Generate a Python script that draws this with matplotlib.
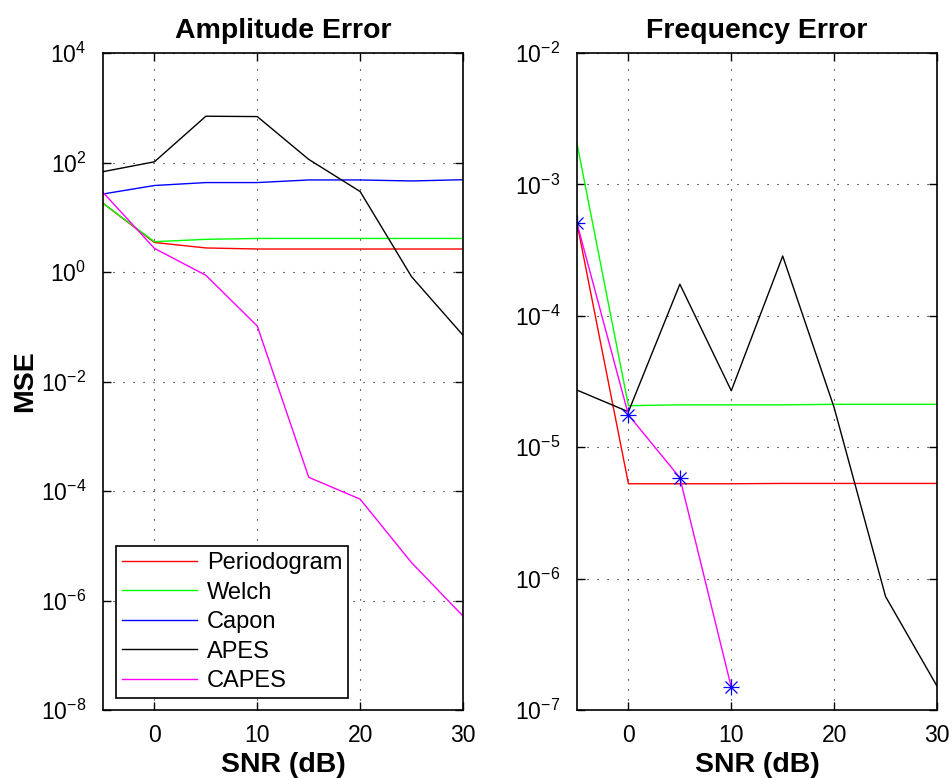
import numpy as np
import matplotlib
matplotlib.use("Agg")
import matplotlib.pyplot as plt
from matplotlib.ticker import NullLocator

plt.rcParams['font.family'] = ['Liberation Sans', 'DejaVu Sans']
plt.rcParams['mathtext.fontset'] = 'custom'
plt.rcParams['mathtext.rm'] = 'Liberation Sans'
plt.rcParams['mathtext.it'] = 'Liberation Sans:italic'
plt.rcParams['mathtext.bf'] = 'Liberation Sans:bold'

snr = [-5, 0, 5, 10, 15, 20, 25, 30]
labels = ["Periodogram", "Welch", "Capon", "APES", "CAPES"]
colors = ["#ff0000", "#00ff00", "#0000ff", "#000000", "#ff00ff"]

# Amplitude error
amp_periodogram = [18, 3.46, 2.75, 2.63, 2.63, 2.63, 2.63, 2.63]
amp_welch = [18, 3.58, 3.95, 4.1, 4.1, 4.1, 4.1, 4.1]
amp_capon = [26.6, 38, 43, 43, 48, 48, 46, 48.5]
amp_apes = [68, 103, 700, 690, 114, 29.5, 0.82, 0.07]
amp_capes = [28.5, 2.7, 0.87, 0.103, 1.78e-4, 7.1e-5, 4.9e-6, 5.2e-7]

# Frequency error
freq_periodogram = [5.06e-4, 5.27e-6, 5.27e-6, 5.27e-6, 5.3e-6, 5.3e-6, 5.3e-6, 5.3e-6]
freq_welch = [2.05e-3, 2.07e-5, 2.1e-5, 2.1e-5, 2.1e-5, 2.12e-5, 2.12e-5, 2.12e-5]
freq_apes = [2.72e-5, 1.86e-5, 1.74e-4, 2.69e-5, 2.85e-4, 2.0e-5, 7.3e-7, 1.52e-7]
freq_capes_snr = [-5, 0, 5, 10]
freq_capes = [5.06e-4, 1.76e-5, 5.86e-6, 1.49e-7]

fig = plt.figure(figsize=(9.53, 7.78), dpi=100)
W, H = 953, 778
ax1 = fig.add_axes([103 / W, 1 - 710 / H, 360 / W, 657 / H])
ax2 = fig.add_axes([577 / W, 1 - 710 / H, 360 / W, 657 / H])

lw = 1.0
amp_series = [amp_periodogram, amp_welch, amp_capon, amp_apes, amp_capes]
for ys, c, lab in zip(amp_series, colors, labels):
    ax1.plot(snr, ys, color=c, lw=lw, label=lab)

ax2.plot(snr, freq_periodogram, color=colors[0], lw=lw)
ax2.plot(snr, freq_welch, color=colors[1], lw=lw)
ax2.plot(snr, freq_apes, color=colors[3], lw=lw)
ax2.plot(freq_capes_snr, freq_capes, color=colors[4], lw=lw)
ax2.plot(freq_capes_snr, freq_capes, linestyle='none', marker='+', color='#0000ff',
         markersize=12, markeredgewidth=0.9)
ax2.plot(freq_capes_snr, freq_capes, linestyle='none', marker='x', color='#0000ff',
         markersize=8.5, markeredgewidth=0.9)

for ax, ylim, title in [(ax1, (1e-8, 1e4), "Amplitude Error"),
                        (ax2, (1e-7, 1e-2), "Frequency Error")]:
    ax.set_yscale('log')
    ax.set_xlim(-5, 30)
    ax.set_ylim(*ylim)
    ax.set_xticks([0, 10, 20, 30])
    ax.tick_params(which='major', direction='in', length=6, width=1.0,
                   top=True, right=True, labelsize=16.5)
    ax.tick_params(axis='x', pad=10)
    ax.tick_params(axis='y', pad=12)
    ax.grid(True, which='major', linestyle=(0, (1, 8)), color='black', linewidth=0.8)
    for s in ax.spines.values():
        s.set_linewidth(1.2)
    ax.set_title(title, fontsize=20.5, fontweight='bold', pad=11)
    ax.set_xlabel("SNR (dB)", fontsize=20.5, fontweight='bold', labelpad=4)

ax1.set_yticks([1e-8, 1e-6, 1e-4, 1e-2, 1e0, 1e2, 1e4])
ax1.yaxis.set_minor_locator(NullLocator())
ax2.set_yticks([1e-7, 1e-6, 1e-5, 1e-4, 1e-3, 1e-2])
ax2.yaxis.set_minor_locator(NullLocator())

ax1.set_ylabel("MSE", fontsize=20.5, fontweight='bold', labelpad=2)

leg = ax1.legend(loc='lower left', fontsize=17, frameon=True, fancybox=False,
                 edgecolor='black', framealpha=1, borderpad=0.25, labelspacing=0.32,
                 handlelength=3.2, handletextpad=0.4, borderaxespad=0,
                 bbox_to_anchor=(0.036, 0.018))
leg.get_frame().set_linewidth(1.2)

fig.savefig("out.png", dpi=100)
